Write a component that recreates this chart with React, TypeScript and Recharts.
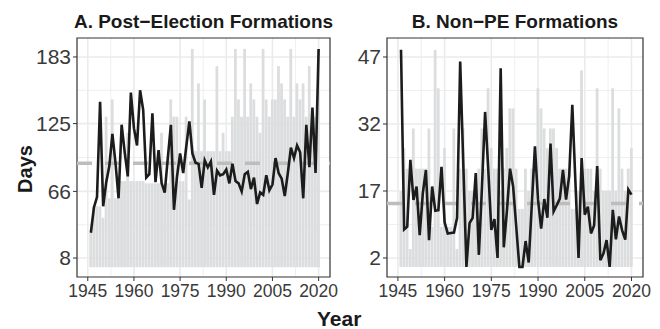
import { Bar, CartesianGrid, ComposedChart, Line, ReferenceArea, ReferenceLine, XAxis, YAxis } from "recharts";

const years = [
  1946, 1947, 1948, 1949, 1950, 1951, 1952, 1953, 1954, 1955, 1956, 1957, 1958, 1959, 1960,
  1961, 1962, 1963, 1964, 1965, 1966, 1967, 1968, 1969, 1970, 1971, 1972, 1973, 1974, 1975,
  1976, 1977, 1978, 1979, 1980, 1981, 1982, 1983, 1984, 1985, 1986, 1987, 1988, 1989, 1990,
  1991, 1992, 1993, 1994, 1995, 1996, 1997, 1998, 1999, 2000, 2001, 2002, 2003, 2004, 2005,
  2006, 2007, 2008, 2009, 2010, 2011, 2012, 2013, 2014, 2015, 2016, 2017, 2018, 2019, 2020,
];

// post-election formations: grey bars + black line
const peBars = [
  30, 53, 53, 53, 43, 131, 60, 146, 60, 60, 75, 75, 117, 75, 75,
  75, 75, 75, 73, 73, 73, 73, 73, 117, 73, 73, 146, 131, 131, 75,
  75, 131, 59, 190, 101, 160, 101, 146, 101, 101, 101, 175, 101, 117, 101,
  101, 131, 190, 146, 131, 190, 131, 160, 146, 131, 117, 190, 146, 131, 146,
  146, 175, 160, 146, 131, 190, 131, 160, 146, 160, 131, 175, 131, 131, 190,
];
const peLine = [
  30, 52, 61, 144, 53, 74, 88, 116, 91, 60, 124, 100, 79, 152, 121,
  106, 154, 137, 78, 81, 134, 74, 102, 73, 65, 95, 124, 50, 79, 99,
  82, 105, 127, 99, 91, 90, 69, 93, 87, 92, 63, 84, 80, 81, 85,
  73, 90, 75, 73, 66, 81, 83, 68, 78, 55, 65, 63, 80, 67, 72,
  95, 82, 77, 62, 82, 104, 95, 106, 100, 60, 124, 87, 139, 82, 190,
];

// non post-election formations
const nonPeBars = [
  17, 26.6, 22, 4, 31, 22, 22, 22, 22, 31, 9, 48.6, 40, 9, 26.6,
  9, 9, 31, 4, 22, 31, 22, 17, 17, 17, 22, 31, 22, 40, 26.6,
  22, 22, 17, 22, 26.6, 35.5, 35.5, 22, 13, 13, 22, 17, 22, 22, 40,
  35.5, 31, 26.6, 31, 31, 26.6, 22, 22, 22, 22, 13, 13, 17, 44, 22,
  22, 22, 17, 40, 22, 17, 17, 17, 40, 17, 35.5, 22, 17, 22, 26.6,
];
const nonPeLine = [
  48.6, 8.4, 9, 24, 15, 18, 7.1, 16.5, 21.7, 6, 18, 12.6, 12.7, 22.4, 10,
  7.5, 7.6, 7.7, 11, 46, 23, 0, 9.8, 11, 21, 2.7, 18, 34.7, 22, 8.3,
  10.7, 2, 44.5, 4.4, 12.5, 22, 18, 9, 0, 0, 5.8, 1, 14, 27, 15,
  8.6, 15.2, 11, 27.6, 12.4, 13.8, 15.3, 21.7, 15.1, 20.4, 36.3, 19, 2, 24.4, 11.7,
  13.5, 7.5, 9.3, 22.6, 1.5, 3, 6, 0, 12.8, 6.2, 11.3, 8.2, 6.1, 17.3, 16.2,
];

const peMean = 90.4;
const nonPeMean = 14.2;

const yearTicks = [1945, 1960, 1975, 1990, 2005, 2020];
const yearMinor = [1952.5, 1967.5, 1982.5, 1997.5, 2012.5];
const peTicks = [8, 66, 125, 183];
const peMinor = [37, 95.5, 154];
const nonPeTicks = [2, 17, 32, 47];
const nonPeMinor = [9.5, 24.5, 39.5];

const xDomain: [number, number] = [1941.5, 2023.7];
const font = "'Liberation Sans', Arial, Helvetica, sans-serif";
const xTickStyle = { fill: "#3A3A3A", fontSize: 17.5, fontFamily: font };
const yTickStyle = { fill: "#3A3A3A", fontSize: 21, fontFamily: font };

interface PanelProps {
  bars: number[];
  line: number[];
  mean: number;
  yDomain: [number, number];
  yTicks: number[];
  yMinor: number[];
  left: number;
  width: number;
  yWidth: number;
  margin: { top: number; right: number; bottom: number; left: number };
}

function Panel({ bars, line, mean, yDomain, yTicks, yMinor, left, width, yWidth, margin }: PanelProps) {
  const data = years.map((y, i) => ({ year: y, bar: bars[i], line: line[i] }));
  return (
    <div style={{ position: "absolute", left, top: 0 }}>
      <ComposedChart width={width} height={329} data={data} margin={margin}>
        <CartesianGrid stroke="#EBEBEB" strokeWidth={0.8} horizontalValues={yMinor} verticalValues={yearMinor} />
        <CartesianGrid stroke="#EBEBEB" strokeWidth={1.6} horizontalValues={yTicks} verticalValues={yearTicks} />
        <XAxis
          dataKey="year"
          type="number"
          domain={xDomain}
          ticks={yearTicks}
          allowDataOverflow
          tick={xTickStyle}
          tickSize={4}
          tickMargin={4}
          tickLine={{ stroke: "#333" }}
          axisLine={false}
          height={30}
        />
        <YAxis
          type="number"
          domain={yDomain}
          ticks={yTicks}
          allowDataOverflow
          tick={yTickStyle}
          tickSize={4}
          tickMargin={2}
          tickLine={{ stroke: "#333" }}
          axisLine={false}
          width={yWidth}
        />
        <Bar dataKey="bar" fill="#DCDDDE" barSize={2.8} isAnimationActive={false} />
        <ReferenceLine y={mean} stroke="#BDBDBD" strokeWidth={3.5} strokeDasharray="15 13" />
        <Line type="linear" dataKey="line" stroke="#1C1C1C" strokeWidth={2.6} dot={false} isAnimationActive={false} />
        <ReferenceArea x1={xDomain[0]} x2={xDomain[1]} y1={yDomain[0]} y2={yDomain[1]} fill="none" stroke="#333" strokeWidth={1.2} />
      </ComposedChart>
    </div>
  );
}

export default function App() {
  return (
    <div style={{ position: "absolute", left: 0, top: 0, width: 660, height: 329, background: "#fff", fontFamily: font }}>
      <Panel
        bars={peBars}
        line={peLine}
        mean={peMean}
        yDomain={[-8.5, 199.5]}
        yTicks={peTicks}
        yMinor={peMinor}
        left={0}
        width={345}
        yWidth={60}
        margin={{ top: 38, right: 15, bottom: 22, left: 17 }}
      />
      <Panel
        bars={nonPeBars}
        line={nonPeLine}
        mean={nonPeMean}
        yDomain={[-2.25, 51.25]}
        yTicks={nonPeTicks}
        yMinor={nonPeMinor}
        left={330}
        width={330}
        yWidth={50}
        margin={{ top: 38, right: 17, bottom: 22, left: 7 }}
      />
      <svg width={660} height={329} style={{ position: "absolute", left: 0, top: 0, pointerEvents: "none" }}>
        <text x={203.5} y={28} textAnchor="middle" fontSize={19} fontWeight="bold" fill="#1A1A1A">
          A. Post−Election Formations
        </text>
        <text x={515} y={28} textAnchor="middle" fontSize={19} fontWeight="bold" fill="#1A1A1A">
          B. Non−PE Formations
        </text>
        <text x={32} y={169} transform="rotate(-90 32 169)" textAnchor="middle" fontSize={20} fontWeight="bold" fill="#1A1A1A">
          Days
        </text>
        <text x={317} y={326} textAnchor="start" fontSize={21} fontWeight="bold" fill="#1A1A1A">
          Year
        </text>
      </svg>
    </div>
  );
}
